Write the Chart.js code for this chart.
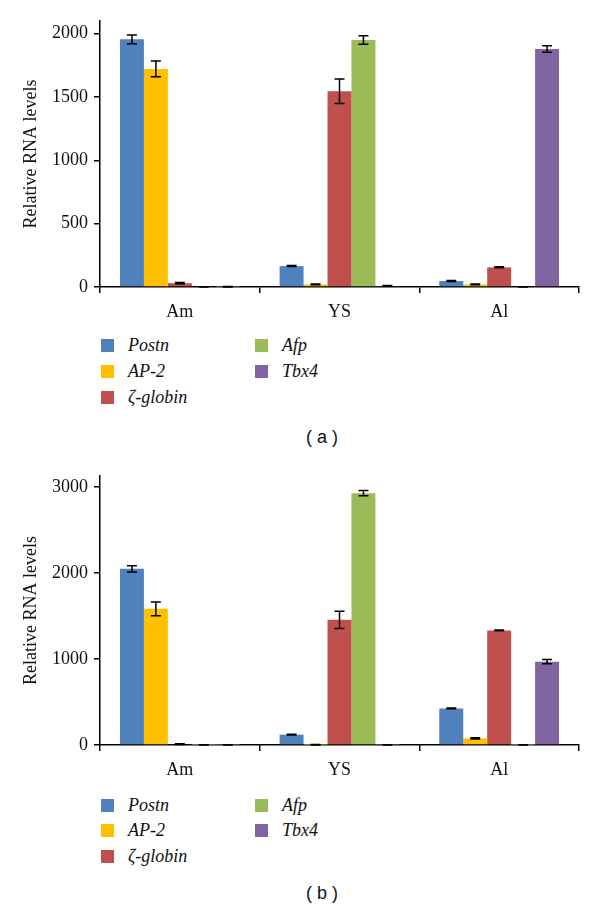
<!DOCTYPE html>
<html>
<head>
<meta charset="utf-8">
<script src="https://cdn.jsdelivr.net/npm/chart.js@4.4.0/dist/chart.umd.min.js"></script>
<style>
    body { margin: 0; background: #fff; width: 600px; height: 916px; position: relative; overflow: hidden; }
    .panel { position: absolute; left: 0; width: 600px; }
    .legend-item { position: absolute; height: 20px; display: flex; align-items: center; font-family: "Liberation Serif", "Times New Roman", serif; font-style: italic; font-size: 18px; color: #111; white-space: nowrap; }
    .legend-item span.sw { display: inline-block; width: 13px; height: 13px; margin-right: 14px; }
    .caption { position: absolute; font-family: "Liberation Sans", Arial, sans-serif; font-size: 18px; color: #111; transform: translate(-50%, -50%); white-space: pre; }
</style>
</head>
<body>
<div class="panel" style="top:0;height:330px"><canvas id="chartA"></canvas></div>
<div class="panel" style="top:455px;height:333px"><canvas id="chartB"></canvas></div>
<div id="legendA"></div>
<div id="legendB"></div>
<div class="caption" style="left:322px;top:437px">( a )</div>
<div class="caption" style="left:322px;top:893px">( b )</div>

<script>
const categories = ["Am", "YS", "Al"];
const seriesNames = ["Postn", "AP-2", "ζ-globin", "Afp", "Tbx4"];
const seriesColors = ["#4F81BD", "#FFC000", "#C0504D", "#9BBB59", "#8064A2"];

// panel (a)
const aPostn = [1955, 165, 47];
const aAP2 = [1722, 20, 20];
const aZglobin = [30, 1546, 155];
const aAfp = [0, 1950, 0];
const aTbx4 = [2, 8, 1879];
const aPostnErr = [35, 4, 4];
const aAP2Err = [62, 3, 3];
const aZglobinErr = [5, 97, 4];
const aAfpErr = [0, 34, 0];
const aTbx4Err = [2, 3, 26];
const aTicks = [0, 500, 1000, 1500, 2000];
const aMax = 2100;

// panel (b)
const bPostn = [2050, 120, 426];
const bAP2 = [1585, 3, 77];
const bZglobin = [10, 1457, 1333];
const bAfp = [2, 2930, 2];
const bTbx4 = [2, 2, 969];
const bPostnErr = [37, 5, 4];
const bAP2Err = [80, 2, 6];
const bZglobinErr = [5, 100, 4];
const bAfpErr = [2, 30, 2];
const bTbx4Err = [2, 2, 25];
const bTicks = [0, 1000, 2000, 3000];
const bMax = 3130;

const errorBars = {
    id: "errorBars",
    afterDatasetsDraw(chart) {
        const ctx = chart.ctx;
        const y = chart.scales.y;
        ctx.save();
        ctx.strokeStyle = "#000";
        ctx.lineWidth = 1.5;
        chart.data.datasets.forEach((ds, i) => {
            const meta = chart.getDatasetMeta(i);
            meta.data.forEach((bar, j) => {
                const v = ds.data[j];
                const e = ds.errors[j];
                const top = y.getPixelForValue(v + e);
                const bot = y.getPixelForValue(Math.max(0, v - e));
                ctx.beginPath();
                ctx.moveTo(bar.x, top);
                ctx.lineTo(bar.x, bot);
                ctx.moveTo(bar.x - 5, top);
                ctx.lineTo(bar.x + 5, top);
                ctx.moveTo(bar.x - 5, bot);
                ctx.lineTo(bar.x + 5, bot);
                ctx.stroke();
            });
        });
        ctx.restore();
    }
};

function makeChart(id, values, errors, ticks, max) {
    const serif = { family: "'Liberation Serif', 'Times New Roman', serif", size: 18 };
    return new Chart(document.getElementById(id), {
        type: "bar",
        data: {
            labels: categories,
            datasets: seriesNames.map((name, i) => ({
                label: name,
                data: values[i],
                errors: errors[i],
                backgroundColor: seriesColors[i],
                borderWidth: 0,
                categoryPercentage: 0.75,
                barPercentage: 1.0
            }))
        },
        options: {
            responsive: true,
            maintainAspectRatio: false,
            animation: false,
            layout: { padding: { top: 21, right: 21, left: 0, bottom: 0 } },
            plugins: { legend: { display: false }, tooltip: { enabled: false } },
            scales: {
                x: {
                    afterFit(scale) { scale.height = 43; },
                    grid: { drawOnChartArea: false, drawTicks: true, tickLength: 6, color: "#000", lineWidth: 1.5, offset: true },
                    border: { display: true, color: "#000", width: 1.5 },
                    ticks: { color: "#111", font: serif, padding: 8 }
                },
                y: {
                    min: 0,
                    max: max,
                    afterFit(scale) { scale.width = 100; },
                    afterBuildTicks(scale) { scale.ticks = ticks.map(v => ({ value: v })); },
                    grid: { drawOnChartArea: false, drawTicks: true, tickLength: 6, color: "#000", lineWidth: 1.5 },
                    border: { display: true, color: "#000", width: 1.5 },
                    ticks: { color: "#111", font: serif, padding: 6, callback: v => String(v) },
                    title: { display: true, text: "Relative RNA levels", color: "#111", font: serif, padding: { top: 20, bottom: 0 } }
                }
            }
        },
        plugins: [errorBars]
    });
}

function makeLegend(id, rowTops) {
    const box = document.getElementById(id);
    seriesNames.forEach((name, i) => {
        const col = i < 3 ? 0 : 1;
        const row = i < 3 ? i : i - 3;
        const item = document.createElement("div");
        item.className = "legend-item";
        item.style.left = (col === 0 ? 101 : 255) + "px";
        item.style.top = (rowTops[row] - 10) + "px";
        item.innerHTML = `<span class="sw" style="background:${seriesColors[i]}"></span>${name}`;
        box.appendChild(item);
    });
}

makeChart("chartA",
    [aPostn, aAP2, aZglobin, aAfp, aTbx4],
    [aPostnErr, aAP2Err, aZglobinErr, aAfpErr, aTbx4Err],
    aTicks, aMax);
makeChart("chartB",
    [bPostn, bAP2, bZglobin, bAfp, bTbx4],
    [bPostnErr, bAP2Err, bZglobinErr, bAfpErr, bTbx4Err],
    bTicks, bMax);
makeLegend("legendA", [345, 371, 397]);
makeLegend("legendB", [805, 830, 856]);
</script>
</body>
</html>
